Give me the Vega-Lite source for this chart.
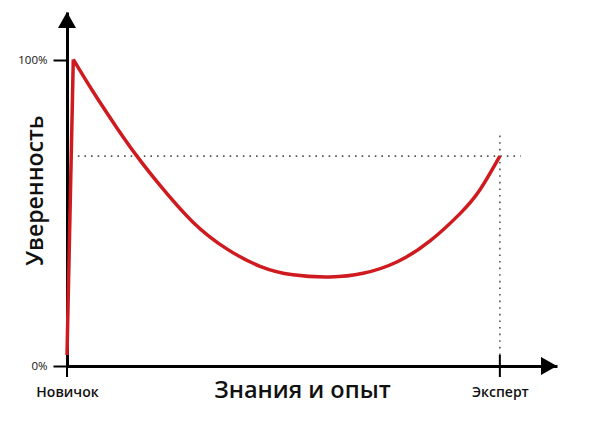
{
  "$schema": "https://vega.github.io/schema/vega-lite/v6.json",
  "width": 490,
  "height": 354,
  "autosize": {"type": "none"},
  "padding": {"left": 67, "top": 12, "right": 33, "bottom": 80},
  "background": "white",
  "config": {"font": "Open Sans", "view": {"stroke": null}},
  "datasets": {
    "rise": [
      {"x": 0, "y": 3.6},
      {"x": 1.45, "y": 100.2}
    ],
    "fall": [
      {"x": 1.45, "y": 100.2},
      {"x": 6.0, "y": 89.7},
      {"x": 11.5, "y": 77.9},
      {"x": 16.2, "y": 68.5},
      {"x": 21.5, "y": 59.0},
      {"x": 29.1, "y": 47.0},
      {"x": 37.0, "y": 38.2},
      {"x": 44.6, "y": 32.6},
      {"x": 52.2, "y": 29.8},
      {"x": 60.7, "y": 29.1},
      {"x": 68.4, "y": 30.3},
      {"x": 76.2, "y": 34.0},
      {"x": 83.8, "y": 40.8},
      {"x": 90.8, "y": 49.8},
      {"x": 95.4, "y": 57.6},
      {"x": 100, "y": 68.6}
    ],
    "hline": [{"x": 2.5, "x2": 104.8, "y": 68.6}],
    "vline": [{"x": 100, "y": 3.6, "y2": 75.5}],
    "ticks": [
      {"x": 0, "y": -3.6, "y2": 3.6},
      {"x": 100, "y": -3.6, "y2": 3.6}
    ],
    "yarrow": [{"x": 0, "y": 115.7}],
    "xarrow": [{"x": 113.2, "y": 0}]
  },
  "encoding": {
    "x": {
      "field": "x", "type": "quantitative",
      "scale": {"domain": [0, 113.2], "nice": false, "zero": false},
      "axis": {
        "values": [0, 100],
        "labelExpr": "datum.value == 0 ? 'Новичок' : 'Эксперт'",
        "labelFlush": false,
        "labelOverlap": false,
        "labelFontSize": 14,
        "labelFontWeight": 600,
        "labelColor": "#111111",
        "labelPadding": 19,
        "ticks": false,
        "tickSize": 0,
        "grid": false,
        "domainColor": "#000000",
        "domainWidth": 3,
        "titleFontSize": 23.5,
        "titleFontWeight": 600,
        "titleColor": "#111111",
        "titleX": 235,
        "titleY": 31,
        "titleBaseline": "alphabetic",
        "titleAlign": "center"
      },
      "title": "Знания и опыт"
    },
    "y": {
      "field": "y", "type": "quantitative",
      "scale": {"domain": [0, 115.7], "nice": false, "zero": false},
      "axis": {
        "values": [0, 100],
        "labelExpr": "datum.value + '%'",
        "labelFlush": false,
        "labelOverlap": false,
        "labelFontSize": 11.5,
        "labelColor": "#111111",
        "labelPadding": 6,
        "tickSize": 14,
        "tickWidth": 2,
        "tickColor": "#000000",
        "grid": false,
        "domainColor": "#000000",
        "domainWidth": 3,
        "titleFontSize": 23,
        "titleFontWeight": 600,
        "titleColor": "#111111",
        "titleAngle": -90,
        "titleX": -25,
        "titleY": 178,
        "titleBaseline": "alphabetic",
        "titleAlign": "center"
      },
      "title": "Уверенность"
    }
  },
  "layer": [
    {
      "data": {"name": "hline"},
      "mark": {"type": "rule", "color": "#555555", "strokeWidth": 1.6, "strokeDash": [1.6, 5]},
      "encoding": {"x2": {"field": "x2"}}
    },
    {
      "data": {"name": "vline"},
      "mark": {"type": "rule", "color": "#555555", "strokeWidth": 1.6, "strokeDash": [1.6, 5]},
      "encoding": {"y2": {"field": "y2"}}
    },
    {
      "data": {"name": "rise"},
      "mark": {"type": "line", "color": "#cf1b1f", "strokeWidth": 3.5, "interpolate": "linear"},
      "encoding": {}
    },
    {
      "data": {"name": "fall"},
      "mark": {"type": "line", "color": "#cf1b1f", "strokeWidth": 3.5, "interpolate": "natural"},
      "encoding": {}
    },
    {
      "data": {"name": "ticks"},
      "mark": {"type": "rule", "color": "#000000", "strokeWidth": 2},
      "encoding": {"y2": {"field": "y2"}}
    },
    {
      "data": {"name": "yarrow"},
      "mark": {"type": "point", "shape": "M0,0L-1,1.78L1,1.78Z", "size": 324, "filled": true, "color": "#000000", "opacity": 1, "strokeWidth": 0},
      "encoding": {}
    },
    {
      "data": {"name": "xarrow"},
      "mark": {"type": "point", "shape": "M0,0L-1.78,-1L-1.78,1Z", "size": 324, "filled": true, "color": "#000000", "opacity": 1, "strokeWidth": 0},
      "encoding": {}
    }
  ]
}
